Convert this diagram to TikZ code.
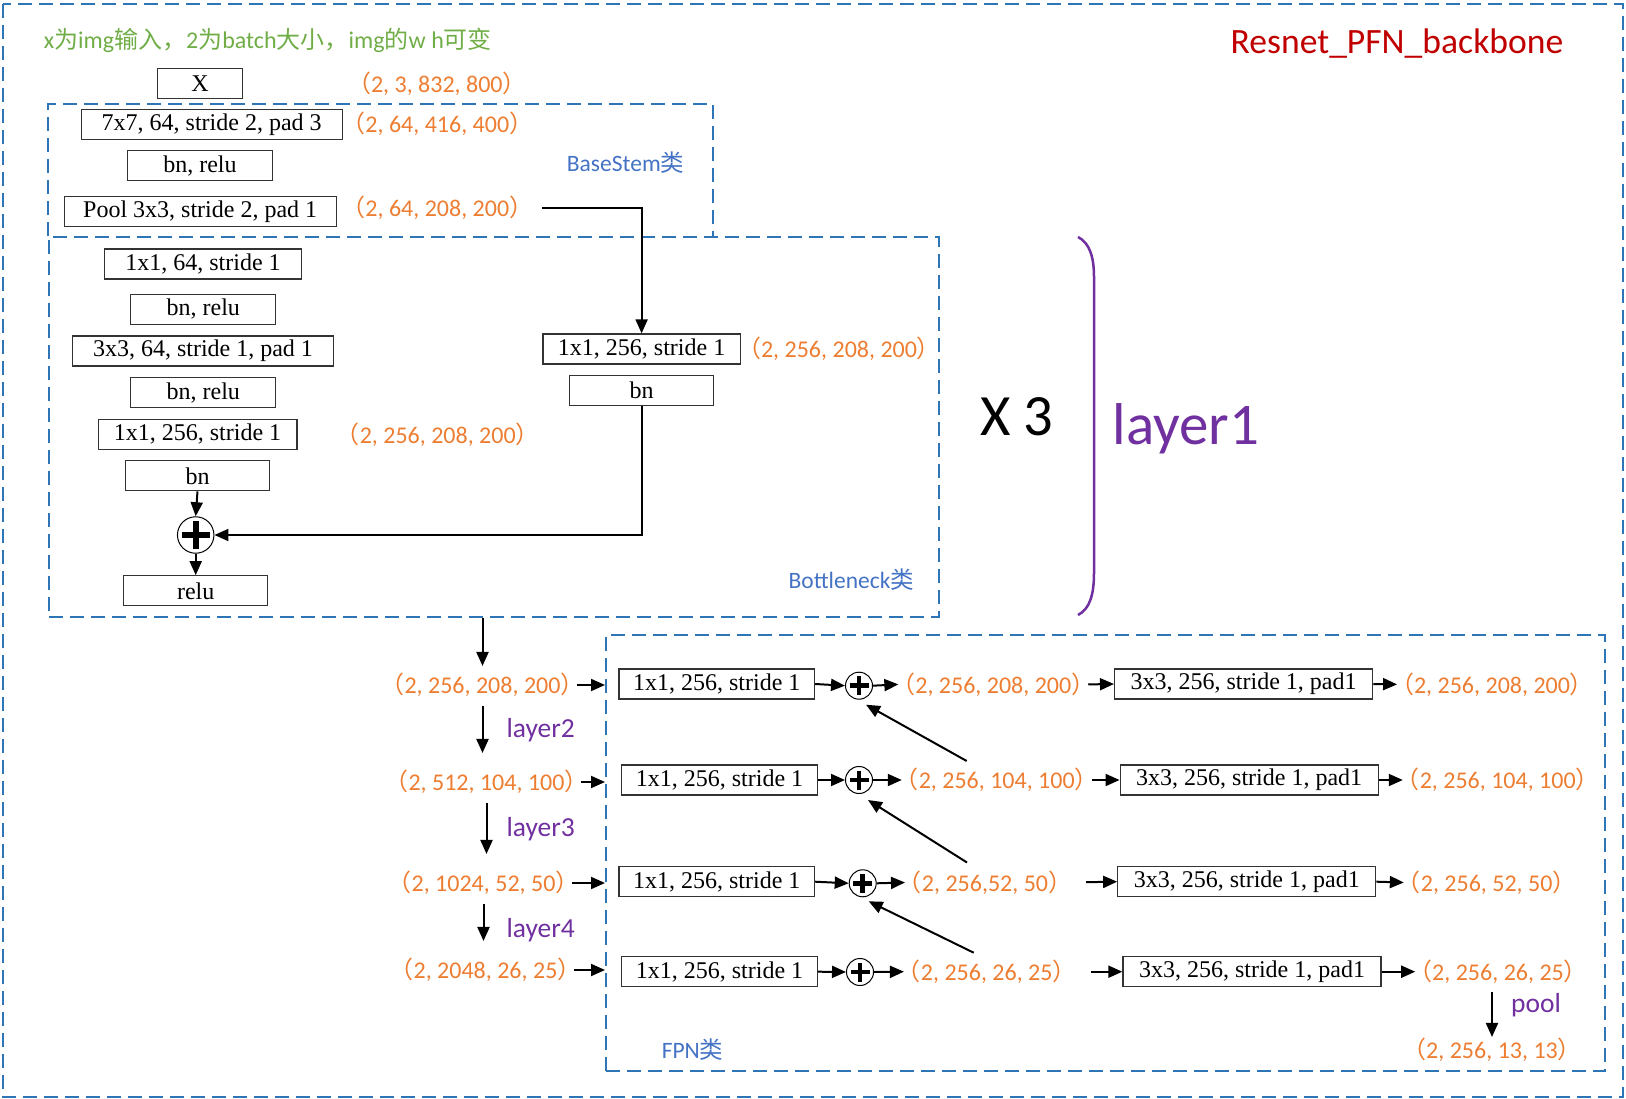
\documentclass[tikz,border=0pt]{standalone}
\usepackage{fontspec}
\setmainfont{Liberation Serif}
\newfontfamily\calfont{Carlito}
\newfontfamily\cjk{Noto Sans CJK SC}
\usetikzlibrary{arrows.meta, positioning, calc}

\definecolor{dashblue}{HTML}{2E75B6}
\definecolor{dimorange}{HTML}{ED7D31}
\definecolor{lyrpurple}{HTML}{7030A0}
\definecolor{clsblue}{HTML}{4472C4}
\definecolor{notegreen}{HTML}{70AD47}
\definecolor{titlered}{HTML}{C00000}

% 张量形状(全角括号)
\newcommand{\dims}[1]{\kern-0.3em{\cjk （}#1{\cjk ）}\kern-0.3em}

\tikzset{
  blk/.style={draw=black!80, line width=1.3pt, minimum height=30pt, inner sep=0pt,
    font=\fontsize{24}{28}\selectfont},
  dimlbl/.style={text=dimorange, inner sep=0pt, font=\calfont\fontsize{24}{28}\selectfont},
  lyr/.style={text=lyrpurple, inner sep=0pt, font=\calfont\fontsize{27.5}{32}\selectfont},
  cls/.style={text=clsblue, inner sep=0pt, font=\calfont\fontsize{23.5}{28}\selectfont},
  grp/.style={draw=dashblue, line width=2pt, dash pattern=on 14pt off 7pt},
  arr/.style={line width=2pt, -{Triangle[length=14pt, width=12pt]}},
  sumop/.style n args={3}{circle, draw=black, line width=1pt, fill=white, inner sep=0pt,
    minimum size=#1,
    path picture={\draw[line width=#3]
      ([xshift=-#2]path picture bounding box.center) -- ([xshift=#2]path picture bounding box.center)
      ([yshift=-#2]path picture bounding box.center) -- ([yshift=#2]path picture bounding box.center);}},
}

\begin{document}
\begin{tikzpicture}[x=1pt, y=-1pt]
  \useasboundingbox (0,0) rectangle (1626,1099);

  % 外框
  \draw[grp] (3,4) rectangle (1623,1097);
  \node[text=titlered, inner sep=0pt, font=\calfont\fontsize{35.6}{40}\selectfont]
    (title) at (1397,44) {Resnet\_PFN\_backbone};
  \node[text=notegreen, inner sep=0pt, anchor=west, font=\calfont\fontsize{24}{28}\selectfont]
    (note) at (43.6,40.5) {x{\cjk 为}img{\cjk 输入，}2{\cjk 为}batch{\cjk 大小，}img{\cjk 的}w h{\cjk 可变}};

  % 输入
  \node[blk, minimum width=85pt] (inp) at (200,83.3) {X};
  \node[dimlbl] (o0) at (436.8,84) {\dims{2, 3, 832, 800}};

  % BaseStem
  \draw[grp] (48,236) |- (713,104) -- (713,236);
  \node[blk, minimum width=261pt] (b1) at (211.7,124.7) {7x7, 64, stride 2, pad 3};
  \node[dimlbl] (o1) at (437.3,123.3) {\dims{2, 64, 416, 400}};
  \node[blk, minimum width=145pt] (b2) at (200,165.8) {bn, relu};
  \node[blk, minimum width=272pt] (b3) at (200.2,211.3) {Pool 3x3, stride 2, pad 1};
  \node[dimlbl] (o2) at (437.3,208) {\dims{2, 64, 208, 200}};
  \node[cls] (stemlbl) at (625.6,163) {BaseStem{\cjk 类}};

  % Bottleneck
  \node[grp, anchor=north west, minimum width=890pt, minimum height=380pt] (bneck) at (48,236) {};
  \node[blk, minimum width=197.5pt] (c1) at (203,264) {1x1, 64, stride 1};
  \node[blk, minimum width=145pt] (c2) at (203.3,309.3) {bn, relu};
  \node[blk, minimum width=260.5pt] (c3) at (203,351) {3x3, 64, stride 1, pad 1};
  \node[blk, minimum width=145pt] (c4) at (203.3,392.7) {bn, relu};
  \node[blk, minimum width=198.7pt] (c5) at (197.5,434.3) {1x1, 256, stride 1};
  \node[dimlbl] (o3) at (437.7,435) {\dims{2, 256, 208, 200}};
  \node[blk, minimum width=144.2pt] (c6) at (197.5,475.8) {bn};
  \node[sumop={36.5pt}{14pt}{6pt}] (add) at (195.7,535) {};
  \node[blk, minimum width=144.2pt] (c7) at (195.7,590.8) {relu};
  \node[blk, minimum width=197.5pt] (d1) at (641.6,349) {1x1, 256, stride 1};
  \node[dimlbl] (o4) at (839,349) {\dims{2, 256, 208, 200}};
  \node[blk, minimum width=144.2pt] (d2) at (641.6,390.7) {bn};
  \node[cls] (bnecklbl) at (851.3,580) {Bottleneck{\cjk 类}};

  \draw[arr, shorten <=16pt] (o2.east) -| (d1.north);
  \draw[arr] (c6.south) -- (add.north);
  \draw[arr] (add.south) -- (c7.north);
  \draw[arr] (d2.south) |- (add.east);

  % 重复 3 次
  \draw[lyrpurple, line width=2.5pt] (1078,237) .. controls (1090,243) and (1094,258) .. (1094,277)
    -- (1094,573) .. controls (1094,594) and (1090,609) .. (1078,615);
  \node[inner sep=0pt, font=\calfont\fontsize{58.5}{64}\selectfont] (rep) at (1017,417) {X 3};
  \node[lyr, font=\calfont\fontsize{59}{64}\selectfont] (l1) at (1186,429) {layer1};

  % layer2 ~ layer4
  \node[dimlbl] (e1) at (482.5,685) {\dims{2, 256, 208, 200}};
  \node[dimlbl] (e2) at (486.5,782) {\dims{2, 512, 104, 100}};
  \node[dimlbl] (e3) at (483.5,883) {\dims{2, 1024, 52, 50}};
  \node[dimlbl] (e4) at (485.5,970) {\dims{2, 2048, 26, 25}};
  \node[lyr] (l2) at (540.7,730) {layer2};
  \node[lyr] (l3) at (540.7,829) {layer3};
  \node[lyr] (l4) at (540.7,930) {layer4};

  \draw[arr, shorten >=7pt] (e1.north |- bneck.south) -- (e1.north);
  \draw[arr, shorten <=9pt, shorten >=17pt] (e1.south) -- (e1.south |- e2.north);
  \draw[arr, shorten <=9pt, shorten >=17pt] (e2.south) -- (e2.south |- e3.north);
  \draw[arr, shorten <=9pt, shorten >=17pt] (e3.south) -- (e3.south |- e4.north);

  % FPN
  \node[grp, anchor=north west, minimum width=998.5pt, minimum height=436.5pt] (fpn) at (605,633.5) {};
  \node[cls] (fpnlbl) at (692.6,1050) {FPN{\cjk 类}};

  \node[blk, minimum width=195.5pt] (f1) at (716.8,684) {1x1, 256, stride 1};
  \node[blk, minimum width=195.5pt] (f2) at (719.5,780) {1x1, 256, stride 1};
  \node[blk, minimum width=195.5pt] (f3) at (716.8,881.7) {1x1, 256, stride 1};
  \node[blk, minimum width=195.5pt] (f4) at (719.5,971.7) {1x1, 256, stride 1};

  \node[sumop={27pt}{9.5pt}{4.5pt}] (p1) at (859,685.7) {};
  \node[sumop={27pt}{9.5pt}{4.5pt}] (p2) at (859,780) {};
  \node[sumop={27pt}{9.5pt}{4.5pt}] (p3) at (862.7,883.3) {};
  \node[sumop={27pt}{9.5pt}{4.5pt}] (p4) at (860,972) {};

  \node[dimlbl] (g1) at (993.3,684.4) {\dims{2, 256, 208, 200}};
  \node[dimlbl] (g2) at (996.7,780) {\dims{2, 256, 104, 100}};
  \node[dimlbl] (g3) at (985,882.5) {\dims{2, 256,52, 50}};
  \node[dimlbl] (g4) at (986.7,971.7) {\dims{2, 256, 26, 25}};

  \node[blk, minimum width=258pt] (h1) at (1243.6,684) {3x3, 256, stride 1, pad1};
  \node[blk, minimum width=258pt] (h2) at (1249.2,780) {3x3, 256, stride 1, pad1};
  \node[blk, minimum width=258pt] (h3) at (1246.8,881.7) {3x3, 256, stride 1, pad1};
  \node[blk, minimum width=258pt] (h4) at (1252,971.7) {3x3, 256, stride 1, pad1};

  \node[dimlbl] (k1) at (1492,684.4) {\dims{2, 256, 208, 200}};
  \node[dimlbl] (k2) at (1497.7,780) {\dims{2, 256, 104, 100}};
  \node[dimlbl] (k3) at (1486.6,882.5) {\dims{2, 256, 52, 50}};
  \node[dimlbl] (k4) at (1498,971.7) {\dims{2, 256, 26, 25}};
  \node[dimlbl] (k5) at (1492,1050) {\dims{2, 256, 13, 13}};
  \node[lyr] (pool) at (1536,1005) {pool};

  % 进入 FPN
  \draw[arr] (e1.east) -- (e1.east -| fpn.west);
  \draw[arr] (e2.east) -- (e2.east -| fpn.west);
  \draw[arr] (e3.east) -- (e3.east -| fpn.west);
  \draw[arr] (e4.east) -- (e4.east -| fpn.west);

  % 横向
  \draw[arr] (f1.east) -- (p1.west);
  \draw[arr] (f2.east) -- (p2.west);
  \draw[arr] (f3.east) -- (p3.west);
  \draw[arr] (f4.east) -- (p4.west);
  \draw[arr] (p1.east) -- (g1.west);
  \draw[arr] (p2.east) -- (g2.west);
  \draw[arr] (p3.east) -- (g3.west);
  \draw[arr] (p4.east) -- (g4.west);
  \draw[arr] (g1.east) -- (h1.west);
  \draw[arr] (g2.east) -- (h2.west);
  \draw[arr, shorten <=21pt] (g3.east) -- (h3.west);
  \draw[arr, shorten <=22pt] (g4.east) -- (h4.west);
  \draw[arr] (h1.east) -- (k1.west);
  \draw[arr] (h2.east) -- (k2.west);
  \draw[arr] (h3.east) -- (k3.west);
  \draw[arr] (h4.east) -- (k4.west);
  \draw[arr, shorten <=8pt, shorten >=1pt] (k5.north |- k4.south) -- (k5.north);

  % 上采样相加
  \coordinate (t2) at ($(g2)+(-30,-19)$);
  \coordinate (t3) at ($(g3)+(-18,-20)$);
  \coordinate (t4) at ($(g4)+(-13,-19)$);
  \coordinate (u1) at ($(p1)+(7,19)$);
  \coordinate (u2) at ($(p2)+(9,20)$);
  \coordinate (u3) at ($(p3)+(6,18)$);
  \draw[arr] (t2) -- (u1);
  \draw[arr] (t3) -- (u2);
  \draw[arr] (t4) -- (u3);
\end{tikzpicture}
\end{document}
